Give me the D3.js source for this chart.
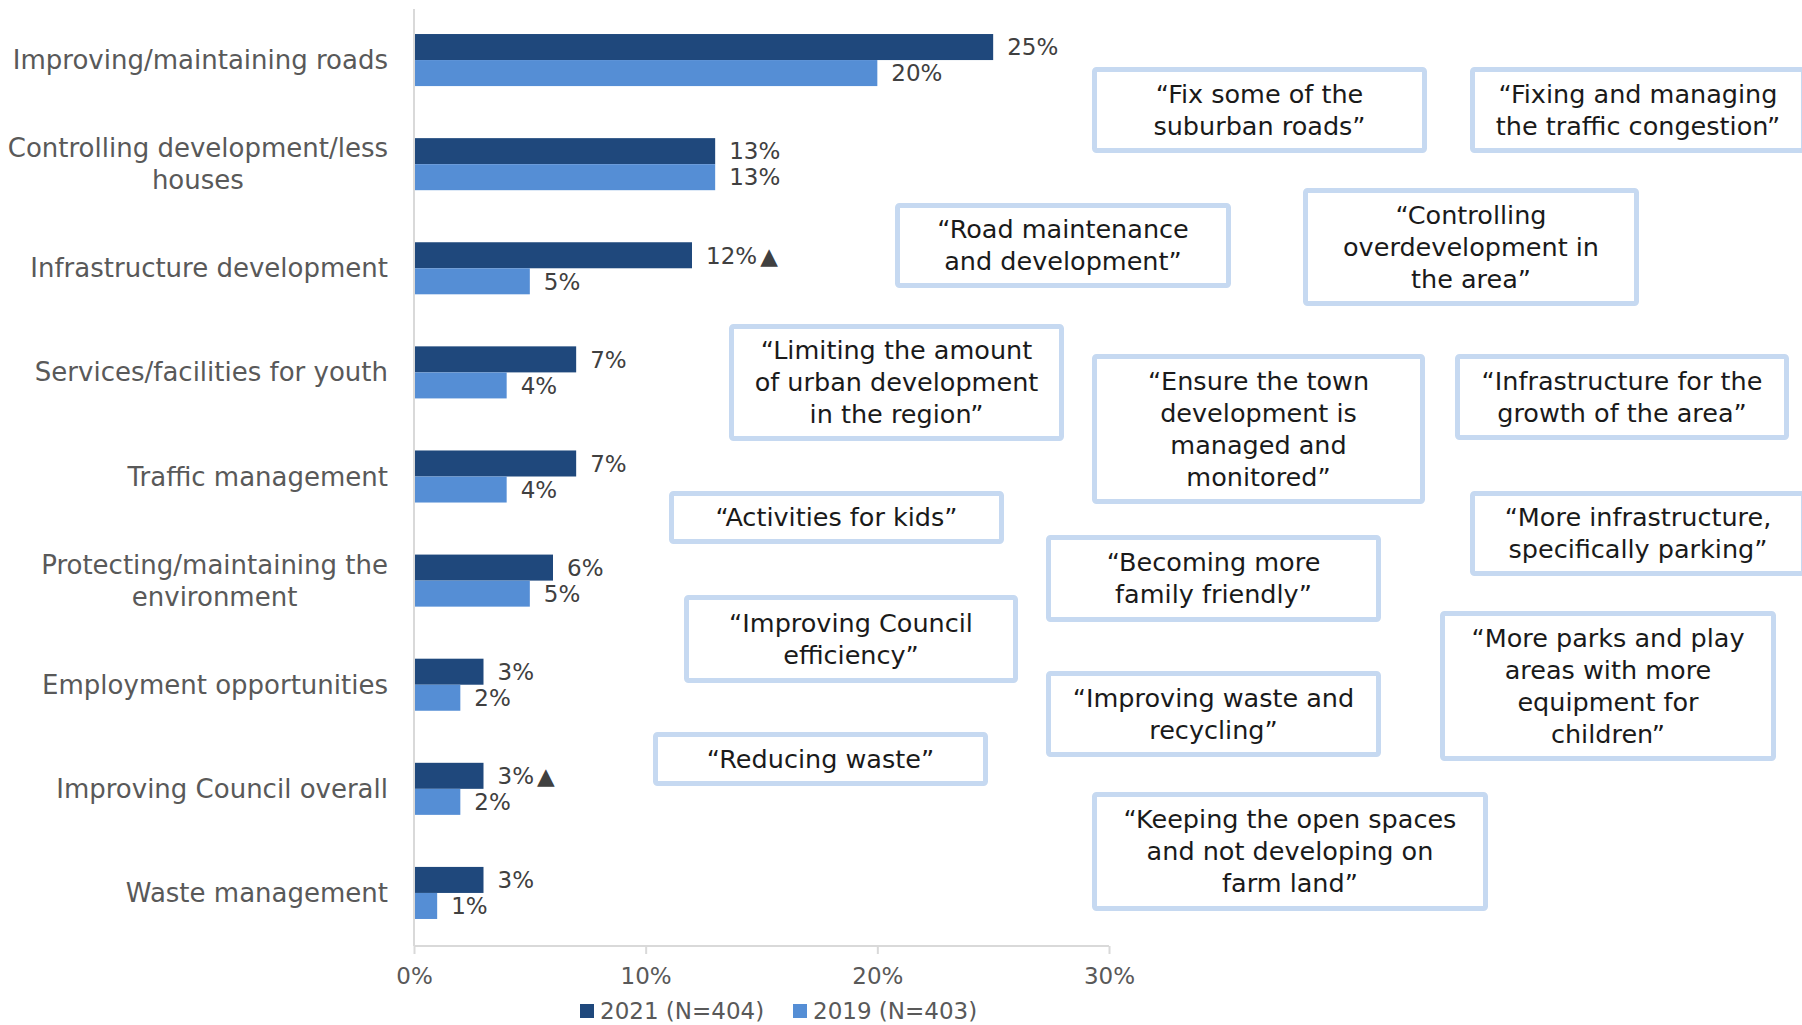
<!DOCTYPE html>
<html>
<head>
<meta charset="utf-8">
<script src="https://cdn.jsdelivr.net/npm/d3@7"></script>
<style>
  html, body { margin: 0; padding: 0; background: #ffffff; }
  svg { display: block; }
  text { font-family: "DejaVu Sans", "Century Gothic", sans-serif; }
</style>
</head>
<body>
<svg id="chart" width="1802" height="1025"></svg>
<script>
// Most important improvements for the area, by survey year
const categories = [
  "Improving/maintaining roads",
  "Controlling development/less houses",
  "Infrastructure development",
  "Services/facilities for youth",
  "Traffic management",
  "Protecting/maintaining the environment",
  "Employment opportunities",
  "Improving Council overall",
  "Waste management"
];
// Wrapped form of each category label
const categoryLines = [
  ["Improving/maintaining roads"],
  ["Controlling development/less", "houses"],
  ["Infrastructure development"],
  ["Services/facilities for youth"],
  ["Traffic management"],
  ["Protecting/maintaining the", "environment"],
  ["Employment opportunities"],
  ["Improving Council overall"],
  ["Waste management"]
];
const values2021 = [25, 13, 12, 7, 7, 6, 3, 3, 3];
const values2019 = [20, 13, 5, 4, 4, 5, 2, 2, 1];
// Significant increase vs 2019
const sigUp2021 = [false, false, true, false, false, false, false, true, false];
const seriesNames = ["2021 (N=404)", "2019 (N=403)"];
const xTicks = [0, 10, 20, 30];

// Verbatim comments from respondents
const quotes = [
  ["\u201CFix some of the", "suburban roads\u201D"],
  ["\u201CFixing and managing", "the traffic congestion\u201D"],
  ["\u201CRoad maintenance", "and development\u201D"],
  ["\u201CControlling", "overdevelopment in", "the area\u201D"],
  ["\u201CLimiting the amount", "of urban development", "in the region\u201D"],
  ["\u201CEnsure the town", "development is", "managed and", "monitored\u201D"],
  ["\u201CInfrastructure for the", "growth of the area\u201D"],
  ["\u201CActivities for kids\u201D"],
  ["\u201CMore infrastructure,", "specifically parking\u201D"],
  ["\u201CBecoming more", "family friendly\u201D"],
  ["\u201CImproving Council", "efficiency\u201D"],
  ["\u201CMore parks and play", "areas with more", "equipment for", "children\u201D"],
  ["\u201CImproving waste and", "recycling\u201D"],
  ["\u201CReducing waste\u201D"],
  ["\u201CKeeping the open spaces", "and not developing on", "farm land\u201D"]
];

// Layout of the quote call-outs (x, y, width, height)
const quoteLayout = [
  [1092, 67, 335, 86],
  [1470, 67, 336, 86],
  [895, 203, 336, 85],
  [1303, 188, 336, 118],
  [729, 324, 335, 117],
  [1092, 354, 333, 150],
  [1455, 354, 334, 86],
  [669, 491, 335, 53],
  [1470, 491, 336, 85],
  [1046, 535, 335, 87],
  [684, 595, 334, 88],
  [1440, 611, 336, 150],
  [1046, 671, 335, 86],
  [653, 732, 335, 54],
  [1092, 792, 396, 119]
];

const colors = ["#1F487C", "#558ED5"];
const labelGrey = "#595959";
const valueGrey = "#404040";

const svg = d3.select("#chart");

const plotBottom = 945;

const x = d3.scaleLinear().domain([0, 30]).range([414, 1109]);
const y = d3.scaleBand().domain(categories).range([8, plotBottom])
  .paddingInner(0.5).paddingOuter(0.25);
const ySub = d3.scaleBand().domain(seriesNames).range([0, y.bandwidth()]);

const rows = categories.map((c, i) => ({
  cat: c, lines: categoryLines[i],
  vals: [values2021[i], values2019[i]], sig: sigUp2021[i]
}));

// Bars with value labels
const g = svg.append("g");
rows.forEach(r => {
  r.vals.forEach((v, k) => {
    g.append("rect")
      .attr("x", x(0))
      .attr("y", y(r.cat) + ySub(seriesNames[k]))
      .attr("width", x(v) - x(0))
      .attr("height", ySub.bandwidth())
      .attr("fill", colors[k]);
    const t = g.append("text")
      .attr("x", x(v) + 14)
      .attr("y", y(r.cat) + ySub(seriesNames[k]) + ySub.bandwidth() / 2)
      .attr("dy", "0.36em")
      .attr("font-size", 23)
      .attr("fill", valueGrey)
      .text(v + "%");
    if (k === 0 && r.sig) {
      t.append("tspan").attr("dx", 3).text("\u25B2");
    }
  });
});

// Category axis line
svg.append("line")
  .attr("x1", x(0)).attr("x2", x(0))
  .attr("y1", 9).attr("y2", 946)
  .attr("stroke", "#D9D9D9").attr("stroke-width", 2);

// Category labels (multi-line labels centred on their block)
rows.forEach(r => {
  const fs = 26, lh = 32;
  const cy = y(r.cat) + y.bandwidth() / 2;
  const tg = svg.append("g");
  const texts = r.lines.map((ln, j) => tg.append("text")
    .attr("y", cy + (j - (r.lines.length - 1) / 2) * lh)
    .attr("dy", "0.35em")
    .attr("font-size", fs)
    .attr("fill", labelGrey)
    .text(ln));
  const maxW = d3.max(texts, t => t.node().getComputedTextLength());
  const right = 388;
  texts.forEach(t => {
    t.attr("x", right - maxW / 2).attr("text-anchor", "middle");
  });
});

// Value axis
const xAxis = d3.axisBottom(x)
  .tickValues(xTicks)
  .tickFormat(d => d + "%")
  .tickSize(8)
  .tickPadding(14);
const ax = svg.append("g").attr("transform", "translate(0,946)").call(xAxis);
ax.select(".domain").attr("stroke", "#D9D9D9").attr("stroke-width", 2)
  .attr("d", `M${x(0)},0H${x(30)}`);
ax.selectAll(".tick line").attr("stroke", "#D9D9D9").attr("stroke-width", 2);
ax.selectAll(".tick text")
  .attr("font-size", 23)
  .attr("fill", labelGrey)
  .attr("font-family", "DejaVu Sans, sans-serif");

// Legend
const legend = svg.append("g").attr("transform", "translate(0,1011)");
const legendX = [580, 793];
seriesNames.forEach((s, k) => {
  legend.append("rect")
    .attr("x", legendX[k]).attr("y", -7)
    .attr("width", 14).attr("height", 14)
    .attr("fill", colors[k]);
  legend.append("text")
    .attr("x", legendX[k] + 20).attr("y", 0).attr("dy", "0.36em")
    .attr("font-size", 23).attr("fill", labelGrey)
    .text(s);
});

// Quote call-outs
const qg = svg.append("g");
quotes.forEach((lines, i) => {
  const [bx, by, bw, bh] = quoteLayout[i];
  qg.append("rect")
    .attr("x", bx + 2.5).attr("y", by + 2.5)
    .attr("width", bw - 5).attr("height", bh - 5)
    .attr("rx", 2)
    .attr("fill", "#ffffff")
    .attr("stroke", "#C6D9F1").attr("stroke-width", 5);
  const lh = 32;
  lines.forEach((ln, j) => {
    qg.append("text")
      .attr("x", bx + bw / 2)
      .attr("y", by + bh / 2 + (j - (lines.length - 1) / 2) * lh)
      .attr("dy", "0.35em")
      .attr("text-anchor", "middle")
      .attr("font-size", 25.5)
      .attr("fill", "#1A1A1A")
      .text(ln);
  });
});
</script>
</body>
</html>
